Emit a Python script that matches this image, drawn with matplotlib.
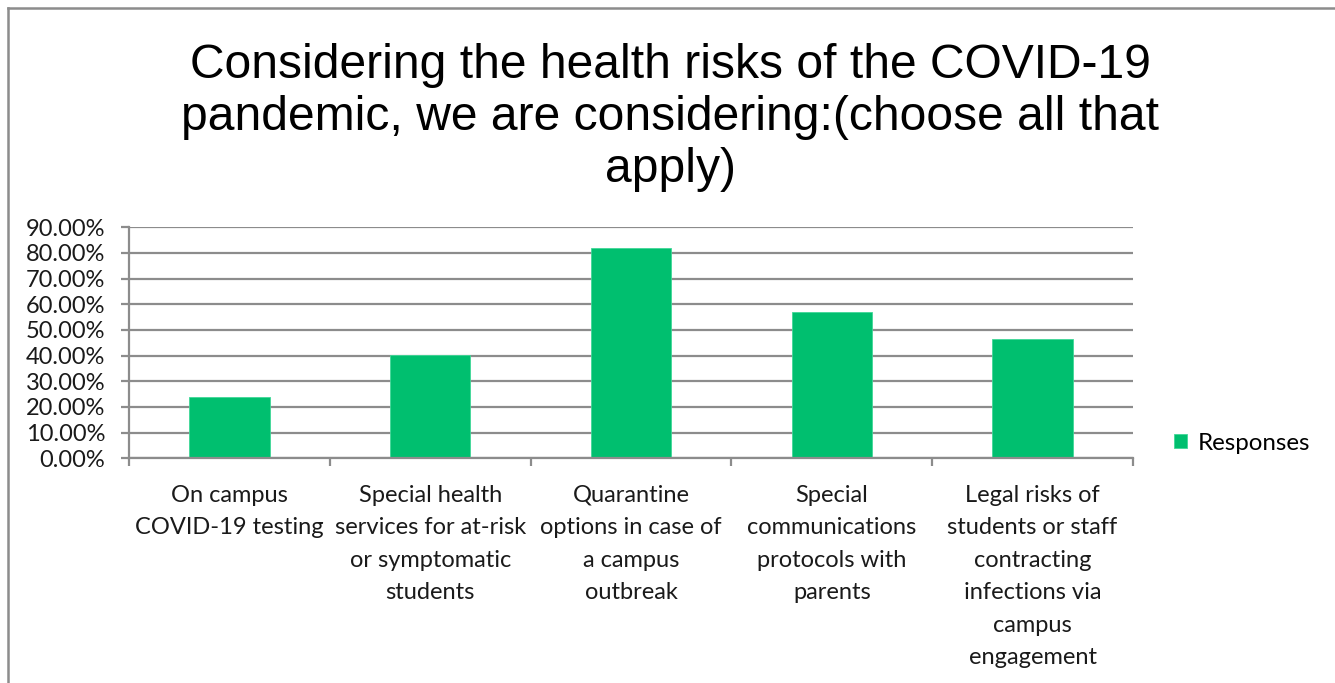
import matplotlib
matplotlib.use("Agg")
import matplotlib.pyplot as plt
from matplotlib.lines import Line2D
from matplotlib.ticker import FixedLocator, NullFormatter, FuncFormatter

categories = [
    "On campus\nCOVID-19 testing",
    "Special health\nservices for at-risk\nor symptomatic\nstudents",
    "Quarantine\noptions in case of\na campus\noutbreak",
    "Special\ncommunications\nprotocols with\nparents",
    "Legal risks of\nstudents or staff\ncontracting\ninfections via\ncampus\nengagement",
]
responses = [0.238, 0.402, 0.818, 0.570, 0.465]
yticks = [0.0, 0.1, 0.2, 0.3, 0.4, 0.5, 0.6, 0.7, 0.8, 0.9]
series_name = "Responses"
title = "Considering the health risks of the COVID-19\npandemic, we are considering:(choose all that\napply)"

W, H = 1335, 683
fig = plt.figure(figsize=(W / 100, H / 100), dpi=100)
fig.patch.set_facecolor("white")

L, R, B, T = 129, 1133, 458.3, 227.3
ax = fig.add_axes([L / W, 1 - B / H, (R - L) / W, (B - T) / H])

grey = "#8c8c8c"
green = "#00bf6f"
tickfont = "Lato"
fs = 17

x = list(range(len(categories)))
ax.bar(x, responses, width=0.4, color=green, edgecolor="#40d898", linewidth=0.6,
       zorder=3, label=series_name)

ax.set_xlim(-0.5, len(categories) - 0.5)
ax.set_ylim(0, 0.9)
ax.set_yticks(yticks)
ax.yaxis.set_major_formatter(FuncFormatter(lambda v, p: f"{v*100:.2f}%"))
ax.grid(axis="y", color=grey, linewidth=1.6, zorder=1)

ax.xaxis.set_major_locator(FixedLocator([i - 0.5 for i in range(len(categories) + 1)]))
ax.xaxis.set_major_formatter(NullFormatter())
ax.xaxis.set_minor_locator(FixedLocator(x))
ax.set_xticklabels(categories, minor=True)
ax.tick_params(axis="x", which="minor", length=0, pad=19)
ax.tick_params(axis="x", which="major", length=6, width=1.6, color=grey, direction="out")
ax.tick_params(axis="y", length=6, width=1.6, color=grey, direction="out", pad=11)

for lbl in ax.get_xticklabels(minor=True):
    lbl.set_fontfamily(tickfont)
    lbl.set_fontsize(fs)
    lbl.set_linespacing(1.68)
    lbl.set_color("#1a1a1a")
    lbl.set_horizontalalignment("center")
for lbl in ax.get_yticklabels():
    lbl.set_fontfamily(tickfont)
    lbl.set_fontsize(fs)
    lbl.set_color("#1a1a1a")

for side in ["top", "right"]:
    ax.spines[side].set_visible(False)
for side in ["left", "bottom"]:
    ax.spines[side].set_color(grey)
    ax.spines[side].set_linewidth(1.6)
    ax.spines[side].set_zorder(4)

fig.text(0.502, 1 - 43 / H, title, ha="center", va="top", fontsize=34.6,
         fontfamily="Liberation Sans", linespacing=1.2, color="#000000")

leg = ax.legend(loc="center left", bbox_to_anchor=(1162 / W, 1 - 443 / H),
                bbox_transform=fig.transFigure, frameon=False,
                prop={"family": tickfont, "size": 17.4}, handlelength=0.55,
                handleheight=0.55, handletextpad=0.45, borderpad=0)

# chart border (top and left edges visible)
fig.add_artist(Line2D([8 / W, 1.0], [1 - 8 / H, 1 - 8 / H], transform=fig.transFigure,
                      color=grey, linewidth=1.8))
fig.add_artist(Line2D([8 / W, 8 / W], [1 - 8 / H, 0.0], transform=fig.transFigure,
                      color=grey, linewidth=1.8))

fig.savefig("out.png", dpi=100, facecolor="white")
